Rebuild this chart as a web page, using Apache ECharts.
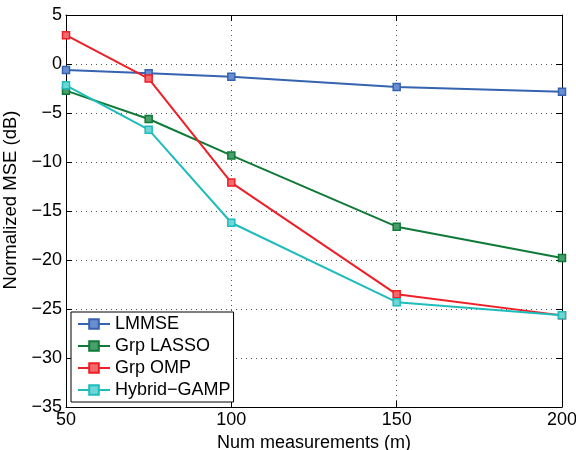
<!DOCTYPE html>
<html><head><meta charset="utf-8">
<script src="https://cdn.jsdelivr.net/npm/echarts@6/dist/echarts.min.js"></script>
<style>html,body{margin:0;padding:0;background:#fff}#c{width:576px;height:450px}</style>
</head><body><div id="c"></div>
<script>
const categories = [50, 75, 100, 150, 200];
const seriesNames = ['LMMSE', 'Grp LASSO', 'Grp OMP', 'Hybrid\u2212GAMP'];
const lmmse = [-0.6, -0.95, -1.29, -2.34, -2.82];
const grpLasso = [-2.72, -5.61, -9.33, -16.6, -19.8];
const grpOmp = [2.94, -1.49, -12.1, -23.5, -25.65];
const hybridGamp = [-2.18, -6.7, -16.2, -24.3, -25.65];
const xTicks = [50, 100, 150, 200];
const yTicks = [5, 0, -5, -10, -15, -20, -25, -30, -35];
const colors = ['#3563b0', '#0f7a38', '#ee1f26', '#1fbcbc'];
const fills = ['#6a8fd0', '#4a9e6a', '#f26a6e', '#6fd6d6'];
const allData = [lmmse, grpLasso, grpOmp, hybridGamp];

const font = 'Liberation Sans, Arial, sans-serif';
const chart = echarts.init(document.getElementById('c'));
const axisCommon = {
  axisLine: {show: true, onZero: false, lineStyle: {color: '#000', width: 1}},
  axisTick: {show: true, inside: true, length: 6, lineStyle: {color: '#000'}},
};
chart.setOption({
  animation: false,
  color: colors,
  grid: {left: 66, top: 15, right: 14, bottom: 43, containLabel: false, outerBoundsMode: 'none'},
  xAxis: [{
    type: 'value', min: 50, max: 200, interval: 50,
    ...axisCommon,
    axisLabel: {color: '#000', fontSize: 18, fontFamily: font, margin: 4},
    splitLine: {show: true, lineStyle: {color: '#555', type: [1, 4], width: 1}},
    name: 'Num measurements (m)', nameLocation: 'middle', nameGap: 22,
    nameTextStyle: {color: '#000', fontSize: 18, fontFamily: font}
  }, {
    type: 'value', min: 50, max: 200, interval: 50, position: 'top',
    ...axisCommon, axisLabel: {show: false}, splitLine: {show: false}
  }],
  yAxis: [{
    type: 'value', min: -35, max: 5, interval: 5,
    ...axisCommon,
    axisLabel: {color: '#000', fontSize: 18, fontFamily: font, margin: 4,
      formatter: v => (v < 0 ? '\u2212' + Math.abs(v) : String(v))},
    splitLine: {show: true, lineStyle: {color: '#555', type: [1, 4], width: 1}},
    name: 'Normalized MSE (dB)', nameLocation: 'middle', nameGap: 38,
    nameTextStyle: {color: '#000', fontSize: 18.5, fontFamily: font, padding: [0, 0, 0, 22]}
  }, {
    type: 'value', min: -35, max: 5, interval: 5, position: 'right',
    ...axisCommon, axisLabel: {show: false}, splitLine: {show: false}
  }],
  legend: {
    orient: 'vertical', left: 71, top: 312,
    backgroundColor: '#fff', borderColor: '#000', borderWidth: 1,
    padding: [3, 3, 3, 6], itemGap: 4, itemWidth: 32, itemHeight: 12,
    textStyle: {color: '#000', fontSize: 18, fontFamily: font, lineHeight: 18, padding: [0, 0, 0, 0]},
    data: seriesNames
  },
  series: seriesNames.map((n, i) => ({
    name: n, type: 'line', xAxisIndex: 0, yAxisIndex: 0,
    data: categories.map((c, j) => [c, allData[i][j]]),
    symbol: 'rect', symbolSize: 7,
    lineStyle: {width: 2, color: colors[i]},
    itemStyle: {color: fills[i], borderColor: colors[i], borderWidth: 1.5},
    z: 2 + i
  }))
});
</script></body></html>
